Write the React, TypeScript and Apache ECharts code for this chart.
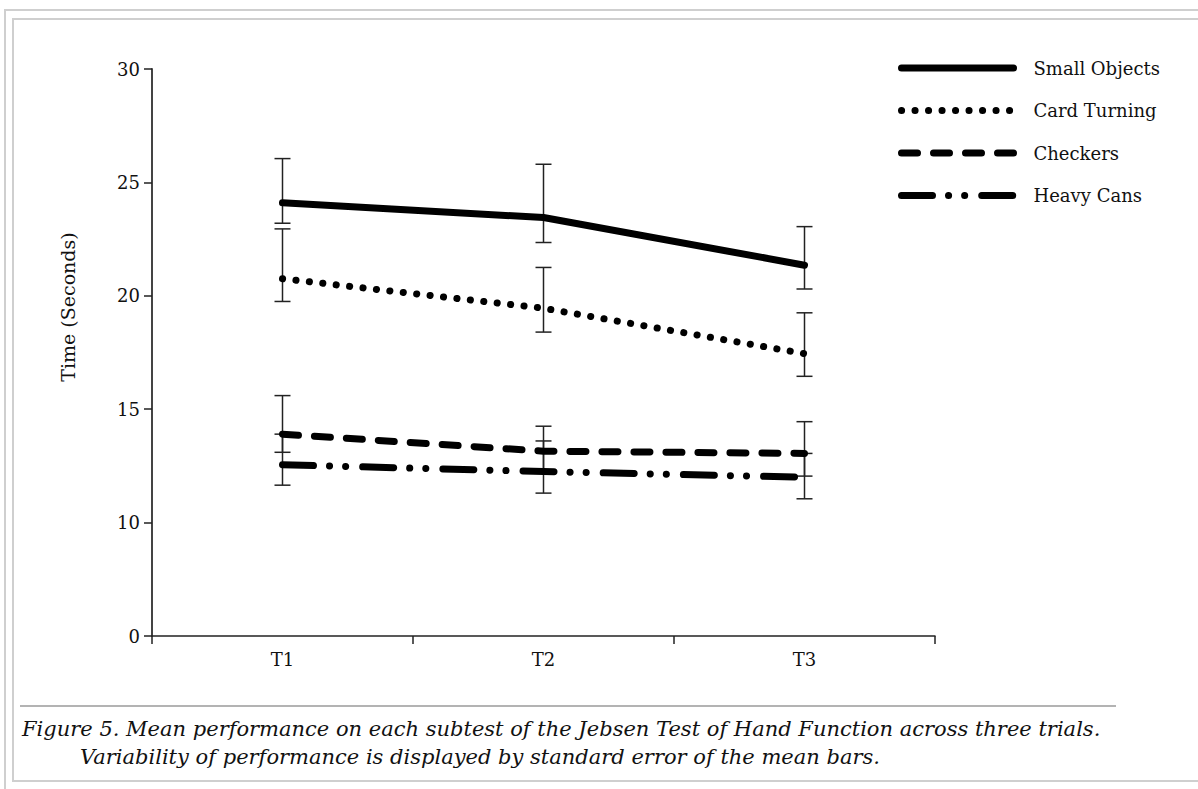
import React, { useEffect, useRef } from "react";
import * as echarts from "echarts";

const categories = ["T1", "T2", "T3"];
const seriesNames = ["Small Objects", "Card Turning", "Checkers", "Heavy Cans"];

const smallObjects = [24.1, 23.45, 21.35];
const smallObjectsUpper = [26.05, 25.8, 23.05];
const smallObjectsLower = [23.2, 22.35, 20.3];

const cardTurning = [20.75, 19.45, 17.45];
const cardTurningUpper = [22.95, 21.25, 19.25];
const cardTurningLower = [19.75, 18.4, 16.45];

const checkers = [13.9, 13.15, 13.05];
const checkersUpper = [15.6, 14.25, 14.45];
const checkersLower = [13.1, 12.3, 12.05];

const heavyCans = [12.55, 12.25, 12.0];
const heavyCansUpper = [13.9, 13.6, 13.05];
const heavyCansLower = [11.65, 11.3, 11.05];

// broken axis: the lowest tick is labelled 0
const yTickValues = [5, 10, 15, 20, 25, 30];
const yTickLabels = ["0", "10", "15", "20", "25", "30"];

const yAxisTitle = "Time (Seconds)";
const captionLine1 = "Figure 5. Mean performance on each subtest of the Jebsen Test of Hand Function across three trials.";
const captionLine2 = "Variability of performance is displayed by standard error of the mean bars.";

const FONT = "'DejaVu Serif', 'Liberation Serif', serif";

export default function App() {
  const ref = useRef<HTMLDivElement>(null);

  useEffect(() => {
    document.body.style.margin = "0";
    if (!ref.current) return;
    const chart = echarts.init(ref.current, null, { renderer: "svg" });

    const means = [smallObjects, cardTurning, checkers, heavyCans];
    const uppers = [smallObjectsUpper, cardTurningUpper, checkersUpper, heavyCansUpper];
    const lowers = [smallObjectsLower, cardTurningLower, checkersLower, heavyCansLower];

    const errData: number[][] = [];
    for (let s = 0; s < means.length; s++) {
      for (let i = 0; i < categories.length; i++) {
        errData.push([i, lowers[s][i], uppers[s][i]]);
      }
    }

    const lineTypes: any[] = [
      "solid",
      [0.1, 13.4],
      [16, 16],
      [31, 16, 0.1, 16, 0.1, 17],
    ];
    const widths = [7, 7, 7, 7];

    const lineSeries = seriesNames.map((name, s) => ({
      name,
      type: "line",
      data: means[s],
      symbol: "none",
      showSymbol: false,
      z: 5,
      lineStyle: {
        color: "#000",
        width: widths[s],
        type: lineTypes[s],
        cap: "round",
        join: "round",
      },
      itemStyle: { color: "#000" },
    }));

    const legendData = seriesNames.map((name, s) => ({
      name,
      itemStyle: { opacity: 0, borderWidth: 0 },
      lineStyle: {
        color: "#000",
        width: widths[s],
        type: lineTypes[s],
        cap: "round",
        join: "round",
        opacity: 1,
      },
    }));

    const option: any = {
      animation: false,
      backgroundColor: "#fff",
      grid: { left: 152, top: 69, width: 783, height: 567, containLabel: false },
      legend: {
        data: legendData,
        orient: "vertical",
        left: 898,
        top: 59,
        padding: 0,
        itemWidth: 112,
        itemHeight: 20,
        itemGap: 24.5,
        textStyle: {
          fontFamily: FONT,
          fontSize: 18,
          color: "#111",
          padding: [0, 0, 0, 15],
        },
        selectedMode: false,
      },
      xAxis: {
        type: "category",
        data: categories,
        boundaryGap: true,
        axisLine: { lineStyle: { color: "#222", width: 1.5 } },
        axisTick: { show: true, length: 8, lineStyle: { color: "#222", width: 1.5 } },
        axisLabel: { fontFamily: FONT, fontSize: 18, color: "#111", margin: 14 },
        splitLine: { show: false },
      },
      yAxis: {
        type: "value",
        min: 5,
        max: 30,
        interval: 5,
        axisLine: { show: true, lineStyle: { color: "#444", width: 2 } },
        axisTick: { show: true, length: 8, lineStyle: { color: "#222", width: 1.5 } },
        axisLabel: {
          fontFamily: FONT,
          fontSize: 18,
          color: "#111",
          margin: 12,
          formatter: (v: number) => {
            const idx = yTickValues.indexOf(v);
            return idx >= 0 ? yTickLabels[idx] : "";
          },
        },
        splitLine: { show: false },
      },
      series: [
        {
          name: "errors",
          type: "custom",
          z: 2,
          silent: true,
          data: errData,
          encode: { x: 0, y: [1, 2] },
          renderItem: (params: any, api: any) => {
            const lo = api.coord([api.value(0), api.value(1)]);
            const hi = api.coord([api.value(0), api.value(2)]);
            const half = 8;
            const style = { stroke: "#222", lineWidth: 1.5 };
            return {
              type: "group",
              children: [
                { type: "line", shape: { x1: lo[0], y1: lo[1], x2: hi[0], y2: hi[1] }, style },
                { type: "line", shape: { x1: lo[0] - half, y1: lo[1], x2: lo[0] + half, y2: lo[1] }, style },
                { type: "line", shape: { x1: hi[0] - half, y1: hi[1], x2: hi[0] + half, y2: hi[1] }, style },
              ],
            };
          },
        },
        ...lineSeries,
      ],
      graphic: [
        {
          type: "rect",
          shape: { x: 5, y: 10, width: 1300, height: 900 },
          style: { fill: "none", stroke: "#cfcfcf", lineWidth: 2 },
          silent: true,
        },
        {
          type: "rect",
          shape: { x: 13, y: 19, width: 1300, height: 762 },
          style: { fill: "none", stroke: "#cfcfcf", lineWidth: 2 },
          silent: true,
        },
        {
          type: "line",
          shape: { x1: 20, y1: 706, x2: 1116, y2: 706 },
          style: { stroke: "#9a9a9a", lineWidth: 1.5 },
          silent: true,
        },
        {
          type: "text",
          x: 68,
          y: 307,
          rotation: Math.PI / 2,
          style: {
            text: yAxisTitle,
            fontFamily: FONT,
            fontSize: 19,
            fill: "#111",
            align: "center",
            verticalAlign: "middle",
          },
          silent: true,
        },
        {
          type: "text",
          x: 22,
          y: 729,
          style: {
            text: captionLine1,
            fontFamily: FONT,
            fontStyle: "italic",
            fontSize: 21,
            fill: "#111",
            verticalAlign: "middle",
          },
          silent: true,
        },
        {
          type: "text",
          x: 80,
          y: 757,
          style: {
            text: captionLine2,
            fontFamily: FONT,
            fontStyle: "italic",
            fontSize: 21,
            fill: "#111",
            verticalAlign: "middle",
          },
          silent: true,
        },
      ],
    };

    chart.setOption(option);
    return () => chart.dispose();
  }, []);

  return <div ref={ref} style={{ width: 1198, height: 789 }} />;
}
